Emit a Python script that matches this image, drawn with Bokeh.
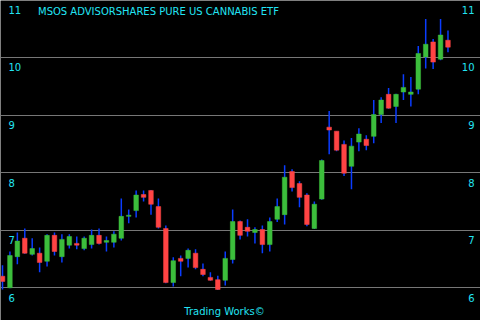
from bokeh.plotting import figure
from bokeh.models import Range1d, Grid, FixedTicker, Label, ColumnDataSource
from bokeh.embed import file_html
from bokeh.resources import INLINE

# OHLC values (MSOS daily candles)
opens  = [6.20, 6.00, 6.54, 6.86, 6.58, 6.60, 6.46, 6.91, 6.54, 6.74,
          6.77, 6.68, 6.75, 6.91, 6.79, 6.79, 6.86, 7.24, 7.34, 7.62,
          7.69, 7.41, 7.03, 6.09, 6.51, 6.51, 6.60, 6.32, 6.18, 6.14,
          6.13, 6.49, 7.15, 7.05, 6.96, 7.01, 6.75, 7.19, 7.27, 8.02,
          7.81, 7.61, 7.03, 7.54, 8.79, 8.72, 8.49, 8.11, 8.53, 8.58,
          8.63, 9.01, 9.36, 9.15, 9.40, 9.36, 9.45, 10.01, 10.27, 9.97,
          10.30]
highs  = [6.39, 6.63, 6.96, 7.03, 6.86, 6.70, 6.93, 6.96, 6.93, 6.93,
          6.89, 6.89, 7.01, 7.03, 6.89, 6.98, 7.55, 7.36, 7.69, 7.69,
          7.70, 7.55, 7.08, 6.53, 6.56, 6.68, 6.67, 6.42, 6.27, 6.21,
          6.63, 7.36, 7.17, 7.19, 7.05, 7.08, 7.22, 7.55, 8.13, 8.06,
          7.85, 7.64, 7.50, 8.23, 9.07, 8.72, 8.56, 8.60, 8.77, 8.65,
          9.26, 9.31, 9.47, 9.37, 9.71, 9.66, 10.20, 10.67, 10.32, 10.67,
          10.47]
lows   = [5.97, 5.99, 6.41, 6.59, 6.56, 6.27, 6.37, 6.56, 6.44, 6.68,
          6.67, 6.65, 6.68, 6.75, 6.63, 6.70, 6.82, 7.12, 7.22, 7.50,
          7.27, 7.03, 6.08, 6.02, 6.20, 6.35, 6.32, 6.20, 6.12, 5.96,
          6.04, 6.42, 6.84, 6.89, 6.77, 6.60, 6.63, 7.14, 7.10, 7.67,
          7.40, 7.07, 7.02, 7.53, 8.32, 8.37, 7.94, 7.71, 8.37, 8.39,
          8.51, 8.86, 9.11, 8.86, 9.26, 9.15, 9.36, 9.81, 9.80, 9.95,
          10.09]
closes = [6.11, 6.56, 6.81, 6.60, 6.68, 6.44, 6.91, 6.63, 6.84, 6.89,
          6.74, 6.86, 6.91, 6.77, 6.82, 6.93, 7.24, 7.26, 7.61, 7.57,
          7.45, 7.05, 6.09, 6.47, 6.46, 6.65, 6.35, 6.23, 6.13, 5.97,
          6.51, 7.15, 6.91, 6.98, 7.01, 6.75, 7.15, 7.41, 7.92, 7.74,
          7.57, 7.10, 7.45, 8.21, 8.74, 8.39, 7.99, 8.46, 8.67, 8.47,
          9.01, 9.26, 9.12, 9.36, 9.48, 9.40, 10.07, 10.23, 9.92, 10.39,
          10.18]

price_levels = [6, 7, 8, 9, 10, 11]
level_labels = ["6", "7", "8", "9", "10", "11"]
title_text = "MSOS  ADVISORSHARES PURE US CANNABIS ETF"
footer_text = "Trading Works\u00a9"

GREEN = "#3cbe3c"
RED = "#ff4444"
WICK = "#0a3cff"
CYAN = "#22e4f4"
GRID = "#777777"

idx = list(range(len(opens)))
tops = [max(o, c) for o, c in zip(opens, closes)]
bots = [min(o, c) for o, c in zip(opens, closes)]
colors = [GREEN if c >= o else RED for o, c in zip(opens, closes)]

src = ColumnDataSource(dict(x=idx, o=opens, h=highs, l=lows, c=closes,
                            top=tops, bottom=bots, color=colors))

p = figure(width=480, height=320, min_border=0,
           x_range=Range1d(-0.27, 64.38), y_range=Range1d(5.431, 10.99),
           x_axis_location=None, y_axis_location=None,
           toolbar_location=None, output_backend="svg",
           background_fill_color="black", border_fill_color="black",
           outline_line_color=None)
p.xgrid.visible = False
p.ygrid.visible = False

grid = Grid(dimension=1, ticker=FixedTicker(ticks=price_levels),
            grid_line_color=GRID, grid_line_width=1)
p.add_layout(grid)

p.segment(x0="x", y0="l", x1="x", y1="h", source=src,
          line_color=WICK, line_width=1.5)
p.vbar(x="x", width=0.62, top="top", bottom="bottom", source=src,
       fill_color="color", line_color="color", line_width=0.5)

for lv, lab in zip(price_levels, level_labels):
    for xs, al in ((8, "left"), (474, "right")):
        p.add_layout(Label(x=xs, x_units="screen", y=lv, text=lab,
                           text_align=al, text_baseline="alphabetic",
                           y_offset=-10, text_color=CYAN,
                           text_font="DejaVu Sans", text_font_size="10px"))

p.add_layout(Label(x=37.5, y=309.5, x_units="screen", y_units="screen",
                   text=title_text, text_align="left",
                   text_baseline="alphabetic", text_color=CYAN,
                   text_font="DejaVu Sans", text_font_size="10px"))
p.add_layout(Label(x=224, y=9.5, x_units="screen", y_units="screen",
                   text=footer_text, text_align="center",
                   text_baseline="alphabetic", text_color=CYAN,
                   text_font="DejaVu Sans", text_font_size="10px"))

open("out.html", "w").write(file_html(p, INLINE))
